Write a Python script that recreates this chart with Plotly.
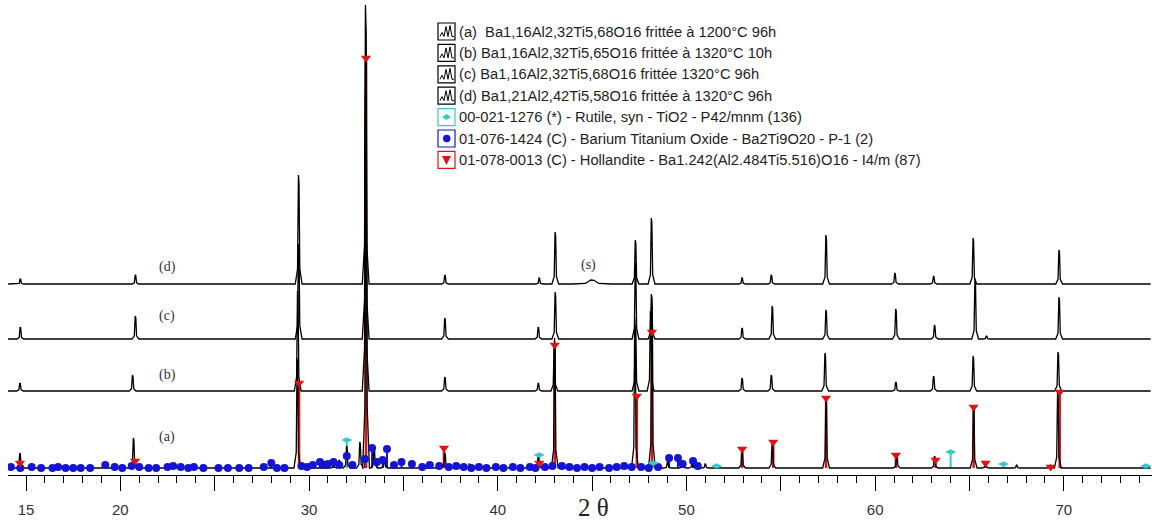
import plotly.graph_objects as go

# ---------------- data ----------------
# offsets of the four diffractograms (intensity units, a.u.)
offsets = {"a": 7, "b": 84, "c": 136, "d": 191}

# peak positions (2θ) and heights above each baseline
a_pos = [14.68, 20.7, 29.38, 31.3, 31.6, 32.0, 32.7, 33.02, 33.45, 34.0, 37.2, 38.5, 42.15, 43.02,
         47.27, 48.17, 49.0, 49.8, 50.3, 51.0, 52.95, 54.55, 57.4, 61.15, 63.15, 65.22, 65.85, 67.5, 69.3, 69.68]
a_int = [15, 30, 110, 5, 8, 22, 26, 440, 20, 8, 15, 4, 12, 130,
         150, 170, 6, 6, 5, 4, 20, 26, 70, 14, 12, 62, 6, 3, 3, 76]

b_pos = [14.68, 20.65, 29.4, 33.0, 37.2, 42.15, 43.0, 47.3, 48.1, 52.95, 54.5, 57.35, 61.1, 63.1, 65.2, 69.7]
b_int = [8, 16, 100, 300, 14, 8, 45, 65, 80, 13, 16, 38, 9, 15, 35, 39]

c_pos = [14.7, 20.8, 29.45, 33.0, 37.2, 42.15, 43.05, 47.3, 48.15, 52.95, 54.55, 57.4, 61.1, 63.15, 65.3, 65.9, 69.75]
c_int = [12, 23, 95, 280, 21, 12, 47, 76, 45, 11, 33, 29, 30, 14, 60, 3, 42]

d_pos = [14.7, 20.8, 29.45, 33.0, 37.2, 42.2, 43.05, 45.0, 47.3, 48.15, 52.95, 54.5, 57.4, 61.05, 63.1, 65.2, 69.75]
d_int = [5, 9, 109, 279, 9, 6, 52, 4, 44, 66, 6, 9, 49, 11, 8, 46, 34]
d_broad = {45.0: 0.35}

two_theta_start, two_theta_end = 14.05, 74.6

# reference patterns (stick positions, stick heights)
rutile_pos = [32.0, 42.2, 48.25, 51.6, 64.0, 66.8, 74.35]
rutile_int = [28, 13, 5, 2, 16, 4, 2]

bto_pos = [14.2, 14.7, 15.3, 15.8, 16.4, 16.7, 17.1, 17.5, 17.9, 18.4, 19.2, 19.7, 20.1, 20.6, 21.0,
           21.5, 21.9, 22.5, 22.8, 23.2, 23.6, 23.9, 24.4, 25.2, 25.7, 26.3, 26.8, 27.6, 28.0, 28.3,
           28.7, 29.6, 29.9, 30.2, 30.58, 30.8, 31.0, 31.3, 31.6, 32.0, 32.3, 32.96, 33.34, 33.6,
           33.9, 34.13, 34.5, 34.9, 35.45, 36.0, 36.4, 36.9, 37.4, 37.8, 38.2, 38.6, 39.0, 39.4,
           39.9, 40.3, 40.8, 41.2, 41.7, 42.0, 42.5, 42.9, 43.4, 43.8, 44.2, 44.6, 45.0, 45.4, 45.9,
           46.3, 46.7, 47.1, 47.6, 48.0, 48.5, 49.08, 49.55, 49.8, 50.35, 50.6]
bto_int = [1, 0, 1, 0, 0, 1, 0, 0, 0, 0, 3, 1, 0, 2, 1,
           0, 0, 1, 2, 1, 0, 1, 0, 0, 0, 0, 0, 1, 5, 0,
           0, 2, 1, 3, 6, 3, 4, 6, 3, 12, 3, 9, 20, 6,
           8, 19, 3, 6, 4, 1, 3, 2, 1, 2, 1, 0, 1, 0,
           1, 0, 1, 0, 1, 0, 1, 2, 2, 1, 0, 1, 0, 1, 0,
           1, 2, 1, 1, 0, 1, 10, 10, 4, 7, 2]

holl_pos = [14.68, 20.78, 29.47, 33.02, 37.15, 42.2, 43.02, 47.37, 48.17, 52.95, 54.6, 57.4,
            61.1, 63.2, 65.22, 65.85, 69.3, 69.78]
holl_int = [5, 7, 85, 410, 20, 5, 123, 72, 136, 19, 26, 70, 13, 8, 61, 5, 1, 76]

tick_vals = [15, 20, 25, 30, 35, 40, 45, 50, 55, 60, 65, 70]
tick_text = ["15", "20", "", "30", "", "40", "", "50", "", "60", "", "70"]

legend_labels = [
    "(a)  Ba1,16Al2,32Ti5,68O16 frittée à 1200°C 96h",
    "(b) Ba1,16Al2,32Ti5,65O16 frittée à 1320°C 10h",
    "(c) Ba1,16Al2,32Ti5,68O16 frittée 1320°C 96h",
    "(d) Ba1,21Al2,42Ti5,58O16 frittée à 1320°C 96h",
    "00-021-1276 (*) - Rutile, syn - TiO2 - P42/mnm (136)",
    "01-076-1424 (C) - Barium Titanium Oxide - Ba2Ti9O20 - P-1 (2)",
    "01-078-0013 (C) - Hollandite - Ba1.242(Al2.484Ti5.516)O16 - I4/m (87)",
]
trace_labels = ["(a)", "(b)", "(c)", "(d)", "(s)"]

# ---------------- colours ----------------
C_BLUE = "#1414d2"
C_RED = "#dc1414"
C_CYAN = "#35c8cc"


def profile(pos, inten, base, broad=None, w=0.06):
    broad = broad or {}
    xs, ys = [two_theta_start], [base]
    for p, h in sorted(zip(pos, inten)):
        ww = broad.get(p, w)
        xs += [p - 3 * ww, p - ww, p - 0.2 * ww, p + 0.3 * ww, p + ww, p + 3 * ww]
        ys += [base, base + 0.14 * h, base + h, base + 0.93 * h, base + 0.14 * h, base]
    xs.append(two_theta_end)
    ys.append(base)
    return xs, ys


def sticks(pos, inten, base):
    xs, ys = [], []
    for p, h in zip(pos, inten):
        xs += [p, p, None]
        ys += [base, base + h, None]
    return xs, ys


fig = go.Figure()

base = offsets["a"]
ref_sets = [
    (bto_pos, bto_int, C_BLUE, "circle", 8, 2),
    (rutile_pos, rutile_int, C_CYAN, "diamond-wide", 8, 2),
    (holl_pos, holl_int, C_RED, "triangle-down", 9, 2.5),
]
# stick lines (under the diffractograms)
for pos, inten, col, sym, size, lw in ref_sets:
    sx, sy = sticks(pos, inten, base)
    fig.add_trace(go.Scatter(x=sx, y=sy, mode="lines", line=dict(color=col, width=lw),
                             showlegend=False, hoverinfo="skip"))

for key, pos, inten, br in [("d", d_pos, d_int, d_broad), ("c", c_pos, c_int, None),
                            ("b", b_pos, b_int, None), ("a", a_pos, a_int, None)]:
    x, y = profile(pos, inten, offsets[key], br)
    fig.add_trace(go.Scatter(x=x, y=y, mode="lines", line=dict(color="black", width=1.3),
                             showlegend=False, hoverinfo="skip"))

# stick markers (on top)
for pos, inten, col, sym, size, lw in ref_sets:
    fig.add_trace(go.Scatter(x=pos, y=[base + h for h in inten], mode="markers",
                             marker=dict(symbol=sym, size=size, color=col, line=dict(width=0)),
                             showlegend=False, hoverinfo="skip"))

# ---------------- layout helpers ----------------
W, H = 1152, 522
ML, MB = 8, 47
PW, PH = W - ML, H - MB


def px(xp):
    return (xp - ML) / PW


def py(yp):
    return (PH - yp) / PH


shapes = []
annotations = []

# manual legend
row0, row_step = 31.5, 21.4
box_x0, box_x1 = 438, 455
box_cols = ["black", "black", "black", "black", C_CYAN, C_BLUE, C_RED]
for i, label in enumerate(legend_labels):
    cy = row0 + i * row_step
    shapes.append(dict(type="rect", xref="paper", yref="paper",
                       x0=px(box_x0), x1=px(box_x1), y0=py(cy + 8.5), y1=py(cy - 8.5),
                       line=dict(color=box_cols[i], width=1.2), fillcolor="white", layer="above"))
    if i < 4:
        pts = [(440, cy + 5), (442, cy + 1), (444, cy + 5), (446, cy - 5), (448, cy + 5),
               (450, cy - 6), (452, cy + 5), (454, cy + 5)]
        path = "M " + " L ".join(f"{px(a):.5f},{py(b):.5f}" for a, b in pts)
        shapes.append(dict(type="path", xref="paper", yref="paper", path=path,
                           line=dict(color="black", width=1), layer="above"))
    elif i == 4:
        path = (f"M {px(442):.5f},{py(cy):.5f} L {px(446.5):.5f},{py(cy - 3):.5f} "
                f"L {px(451):.5f},{py(cy):.5f} L {px(446.5):.5f},{py(cy + 3):.5f} Z")
        shapes.append(dict(type="path", xref="paper", yref="paper", path=path,
                           fillcolor=C_CYAN, line=dict(width=0), layer="above"))
    elif i == 5:
        shapes.append(dict(type="circle", xref="paper", yref="paper",
                           x0=px(443), x1=px(450.5), y0=py(cy + 3.8), y1=py(cy - 3.8),
                           fillcolor=C_BLUE, line=dict(width=0), layer="above"))
    else:
        path = (f"M {px(442):.5f},{py(cy - 4):.5f} L {px(451):.5f},{py(cy - 4):.5f} "
                f"L {px(446.5):.5f},{py(cy + 5):.5f} Z")
        shapes.append(dict(type="path", xref="paper", yref="paper", path=path,
                           fillcolor=C_RED, line=dict(width=0), layer="above"))
    annotations.append(dict(xref="paper", yref="paper", x=px(457), y=py(cy), text=label,
                            showarrow=False, xanchor="left", yanchor="middle",
                            font=dict(family="Liberation Sans, Arial", size=14.7, color="#1e1e1e")))

# trace labels
label_xy = [(167, 437), (167, 375), (167, 316), (167, 267), (588, 265)]
for t, (lx, ly) in zip(trace_labels, label_xy):
    annotations.append(dict(xref="paper", yref="paper", x=px(lx), y=py(ly), text=t,
                            showarrow=False, xanchor="center", yanchor="middle",
                            font=dict(family="Liberation Serif, Times New Roman", size=14, color="#333")))

# axis title
annotations.append(dict(xref="paper", yref="paper", x=px(594), y=py(507), text="2 θ",
                        showarrow=False, xanchor="center", yanchor="middle",
                        font=dict(family="Liberation Serif, Times New Roman", size=25, color="#222")))

x_lo = 15 + (ML - 26) / 18.87
x_hi = 15 + (W - 26) / 18.87

fig.update_layout(
    width=W, height=H,
    margin=dict(l=ML, r=0, t=0, b=MB),
    paper_bgcolor="white", plot_bgcolor="white",
    shapes=shapes, annotations=annotations,
    showlegend=False,
    xaxis=dict(range=[x_lo, x_hi], showline=True, linecolor="black", linewidth=1,
               ticks="outside", ticklen=15, tickwidth=1, tickcolor="black",
               tickvals=tick_vals, ticktext=tick_text, showgrid=False, zeroline=False,
               tickfont=dict(family="Liberation Sans, Arial", size=15, color="#333"),
               ticklabelstandoff=6,
               minor=dict(ticks="outside", ticklen=7, dtick=1, tickcolor="black", showgrid=False)),
    yaxis=dict(range=[0, PH], visible=False, showgrid=False, zeroline=False),
)

# remove the default 8px page margin so the figure fills the window exactly
fig.write_html("out.html", config={"displayModeBar": False},
               post_script="document.body.style.margin='0';document.body.style.padding='0';")
